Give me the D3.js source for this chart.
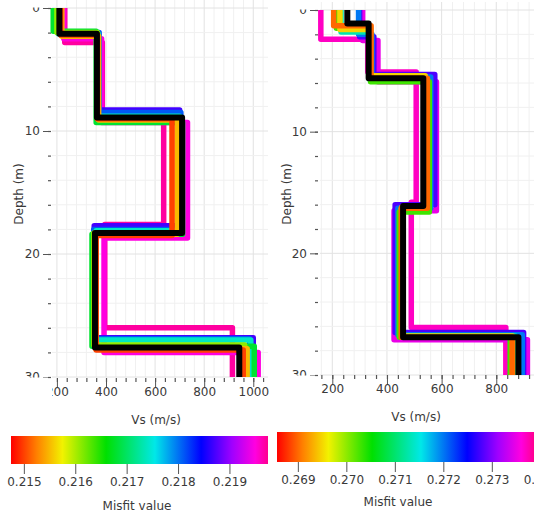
<!DOCTYPE html>
<html><head><meta charset="utf-8">
<script src="https://cdn.jsdelivr.net/npm/d3@7"></script>
<style>
html,body{margin:0;padding:0;background:#fff;}
svg{display:block;font-family:"DejaVu Sans",sans-serif;}
</style></head>
<body>
<svg id="chart" width="534" height="517"></svg>
<script>
// ---------- DATA ----------
// colormap stops (fraction of colorbar) and colours
const colorStops = [0, 0.1, 0.2, 0.37, 0.56, 0.74, 0.86, 0.95, 1.0];
const colorValues = ["#ff0000", "#ff8000", "#f2f200", "#00e000", "#00e8e8", "#0000ff", "#a000ff", "#ff00e0", "#ff0090"];

// left panel
const leftMisfitDomain = [0.21475, 0.21975];
const leftMisfitTicks = [0.215, 0.216, 0.217, 0.218, 0.219];
const leftVsTicks = [200, 400, 600, 800, 1000];
const leftMisfits = [0.2197, 0.2195, 0.2187, 0.2181, 0.2174, 0.2168, 0.2161, 0.2155, 0.2150];
const leftBoundaries = [
  [2.8, 8.4, 17.6, 26.0],
  [2.5, 9.3, 18.7, 28.0],
  [2.2, 8.3, 17.7, 26.8],
  [2.0, 8.5, 18.0, 26.9],
  [2.1, 8.8, 18.1, 27.0],
  [1.9, 9.3, 18.4, 27.5],
  [2.0, 9.0, 18.3, 27.4],
  [2.3, 9.1, 18.4, 27.7],
  [2.2, 9.0, 18.5, 27.8]
];
const leftVelocities = [
  [232, 385, 635, 395, 915],
  [228, 382, 732, 392, 1020],
  [215, 370, 700, 352, 1000],
  [210, 372, 705, 350, 985],
  [205, 368, 700, 360, 990],
  [185, 360, 712, 343, 1004],
  [200, 365, 700, 350, 965],
  [220, 370, 690, 358, 975],
  [215, 365, 669, 360, 959]
];
const leftBestBoundaries = [2.1, 8.9, 18.3, 27.6];
const leftBestVelocities = [210, 363, 710, 355, 943];

// right panel
const rightMisfitDomain = [0.26857, 0.27387];
const rightMisfitTicks = [0.269, 0.270, 0.271, 0.272, 0.273, 0.274];
const rightVsTicks = [200, 400, 600, 800];
const rightMisfits = [0.2737, 0.2735, 0.2728, 0.2720, 0.2713, 0.2703, 0.2695, 0.2690];
const rightBoundaries = [
  [2.4, 5.1, 15.8, 26.1],
  [2.5, 5.9, 16.5, 27.1],
  [2.2, 5.3, 16.0, 26.5],
  [2.0, 5.5, 16.3, 26.7],
  [1.8, 5.7, 16.4, 26.8],
  [1.5, 5.9, 16.6, 26.9],
  [1.6, 5.4, 16.2, 26.8],
  [1.3, 5.6, 16.3, 26.9]
];
const rightVelocities = [
  [158, 330, 507, 489, 835],
  [311, 367, 581, 426, 914],
  [300, 352, 575, 430, 900],
  [296, 345, 560, 440, 895],
  [232, 336, 545, 450, 870],
  [215, 340, 555, 445, 851],
  [228, 338, 540, 455, 860],
  [205, 342, 548, 452, 858]
];
const rightBestBoundaries = [1.1, 5.6, 16.1, 26.9];
const rightBestVelocities = [255, 333, 533, 459, 881];

const depthTicks = [0, 10, 20, 30];

// ---------- DRAWING ----------
const svg = d3.select("#chart");
const defs = svg.append("defs");
const textColor = "#3a3a3a";

function makeColor(domain) {
  const d = colorStops.map(s => domain[0] + s * (domain[1] - domain[0]));
  return d3.scaleLinear().domain(d).range(colorValues).clamp(true);
}

function panel(cfg) {
  const x = d3.scaleLinear().domain(cfg.vsDomain).range([cfg.left, cfg.right]);
  const y = d3.scaleLinear().domain([0, 30]).range([cfg.top, cfg.bottom]);
  const color = makeColor(cfg.misfitDomain);
  const id = cfg.id;

  defs.append("clipPath").attr("id", "plot" + id).append("rect")
    .attr("x", cfg.left - 3).attr("y", cfg.top - 3)
    .attr("width", cfg.right - cfg.left + 6).attr("height", cfg.bottom - cfg.top + 3);
  defs.append("clipPath").attr("id", "yl" + id).append("rect")
    .attr("x", 0).attr("y", cfg.top - 0.5).attr("width", cfg.left + 2).attr("height", cfg.bottom - cfg.top + 1);
  defs.append("clipPath").attr("id", "xl" + id).append("rect")
    .attr("x", cfg.left).attr("y", cfg.bottom - 2).attr("width", 600).attr("height", 40);

  // grid
  const g = svg.append("g");
  const minorX = d3.range(160, cfg.vsDomain[1] + 1, 40);
  const minorY = d3.range(0, 31, 2);
  g.selectAll(".gx").data(minorX.filter(v => x(v) >= cfg.left)).join("line")
    .attr("x1", d => x(d)).attr("x2", d => x(d)).attr("y1", cfg.top - 8).attr("y2", cfg.bottom)
    .attr("stroke", d => d % 200 === 0 ? "#e2e2e2" : "#f0f0f0").attr("stroke-width", 1);
  g.selectAll(".gy").data(minorY).join("line")
    .attr("x1", cfg.left).attr("x2", cfg.right).attr("y1", d => y(d)).attr("y2", d => y(d))
    .attr("stroke", d => d % 10 === 0 ? "#e2e2e2" : "#f0f0f0").attr("stroke-width", 1);

  // profiles
  const line = d3.line().x(p => x(p[0])).y(p => y(p[1])).curve(d3.curveLinear);
  function pts(bounds, vels) {
    const out = [];
    let top = 0;
    vels.forEach((v, i) => {
      const bot = i < bounds.length ? bounds[i] : 31;
      out.push([v, top]); out.push([v, bot]);
      top = bot;
    });
    return out;
  }
  const pg = svg.append("g").attr("clip-path", `url(#plot${id})`);
  const order = d3.range(cfg.misfits.length).sort((a, b) => cfg.misfits[b] - cfg.misfits[a]);
  order.forEach(i => {
    pg.append("path").attr("d", line(pts(cfg.bounds[i], cfg.vels[i])))
      .attr("fill", "none").attr("stroke", color(cfg.misfits[i]))
      .attr("stroke-width", 5.5).attr("stroke-linejoin", "round");
  });
  pg.append("path").attr("d", line(pts(cfg.bestBounds, cfg.bestVels)))
    .attr("fill", "none").attr("stroke", "#000").attr("stroke-width", 6).attr("stroke-linejoin", "round");

  // y axis
  const yMinor = d3.axisLeft(y).tickValues(minorY).tickSize(3).tickFormat("");
  svg.append("g").attr("transform", `translate(${cfg.yAxisX},0)`).call(yMinor)
    .call(s => s.select(".domain").remove()).selectAll("line").attr("stroke", "#555").attr("stroke-width", 1.2);
  const yMajor = d3.axisLeft(y).tickValues(depthTicks).tickSize(8).tickPadding(3);
  const ya = svg.append("g").attr("clip-path", `url(#yl${id})`)
    .append("g").attr("transform", `translate(${cfg.yAxisX},0)`).call(yMajor);
  ya.select(".domain").remove();
  ya.selectAll("line").attr("stroke", "#555").attr("stroke-width", 1);
  ya.selectAll("text").attr("fill", textColor).attr("font-size", 12).attr("font-family", "DejaVu Sans");

  // x axis
  const xMinor = d3.axisBottom(x).tickValues(minorX.filter(v => x(v) >= cfg.left - 1)).tickSize(4).tickFormat("");
  svg.append("g").attr("transform", `translate(0,${cfg.xAxisY})`).call(xMinor)
    .call(s => s.select(".domain").remove()).selectAll("line").attr("stroke", "#555").attr("stroke-width", 1.2);
  const xMajor = d3.axisBottom(x).tickValues(cfg.vsTicks).tickSize(9).tickPadding(0).tickFormat(d3.format("d"));
  const xa = svg.append("g").attr("clip-path", `url(#xl${id})`)
    .append("g").attr("transform", `translate(0,${cfg.xAxisY})`).call(xMajor);
  xa.select(".domain").remove();
  xa.selectAll("line").attr("stroke", "#555").attr("stroke-width", 1);
  xa.selectAll("text").attr("fill", textColor).attr("font-size", 12).attr("font-family", "DejaVu Sans");

  // axis titles
  svg.append("text").attr("transform", `translate(${cfg.depthLabelX},${cfg.depthLabelY}) rotate(-90)`)
    .attr("text-anchor", "middle").attr("font-size", 12).attr("fill", textColor).text("Depth (m)");
  svg.append("text").attr("x", cfg.vsLabelX).attr("y", cfg.vsLabelY)
    .attr("text-anchor", "middle").attr("font-size", 12).attr("fill", textColor).text("Vs (m/s)");

  // colorbar
  const cb = d3.scaleLinear().domain(cfg.misfitDomain).range([cfg.cbX0, cfg.cbX1]);
  const grad = defs.append("linearGradient").attr("id", "grad" + id)
    .attr("x1", 0).attr("x2", 1).attr("y1", 0).attr("y2", 0);
  colorStops.forEach((s, i) => grad.append("stop").attr("offset", s).attr("stop-color", colorValues[i]));
  svg.append("rect").attr("x", cfg.cbX0).attr("y", cfg.cbY).attr("width", cfg.cbX1 - cfg.cbX0)
    .attr("height", cfg.cbH).attr("fill", `url(#grad${id})`);
  const cMinor = d3.axisBottom(cb).tickValues(d3.range(0, 40).map(k => 0.2 + k * 0.0002)
      .filter(v => v >= cfg.misfitDomain[0] && v <= cfg.misfitDomain[1] + 0.0003)).tickSize(5).tickFormat("");
  svg.append("g").attr("transform", `translate(0,${cfg.cbY + cfg.cbH})`).call(cMinor)
    .call(s => s.select(".domain").remove()).selectAll("line").attr("stroke", "#555");
  const cMajor = d3.axisBottom(cb).tickValues(cfg.misfitTicks).tickSize(10).tickPadding(3).tickFormat(d3.format(".3f"));
  const ca = svg.append("g").attr("transform", `translate(0,${cfg.cbY + cfg.cbH})`).call(cMajor);
  ca.select(".domain").remove();
  ca.selectAll("line").attr("stroke", "#555");
  ca.selectAll("text").attr("fill", textColor).attr("font-size", 12).attr("font-family", "DejaVu Sans");
  svg.append("text").attr("x", cfg.misfitLabelX).attr("y", cfg.misfitLabelY)
    .attr("text-anchor", "middle").attr("font-size", 12).attr("fill", textColor).text("Misfit value");
}

panel({
  id: "L", vsDomain: [180, 1060], left: 52, right: 268, top: 8, bottom: 377,
  yAxisX: 51, xAxisY: 378, vsTicks: leftVsTicks,
  misfitDomain: leftMisfitDomain, misfitTicks: leftMisfitTicks,
  misfits: leftMisfits, bounds: leftBoundaries, vels: leftVelocities,
  bestBounds: leftBestBoundaries, bestVels: leftBestVelocities,
  depthLabelX: 23, depthLabelY: 194, vsLabelX: 156, vsLabelY: 424,
  cbX0: 11, cbX1: 268, cbY: 436, cbH: 28, misfitLabelX: 137, misfitLabelY: 510
});
panel({
  id: "R", vsDomain: [155, 960], left: 320, right: 540, top: 10, bottom: 375,
  yAxisX: 318, xAxisY: 375, vsTicks: rightVsTicks,
  misfitDomain: rightMisfitDomain, misfitTicks: rightMisfitTicks,
  misfits: rightMisfits, bounds: rightBoundaries, vels: rightVelocities,
  bestBounds: rightBestBoundaries, bestVels: rightBestVelocities,
  depthLabelX: 291, depthLabelY: 194, vsLabelX: 416, vsLabelY: 421,
  cbX0: 277, cbX1: 534, cbY: 432, cbH: 30, misfitLabelX: 398, misfitLabelY: 506
});
</script>
</body></html>
